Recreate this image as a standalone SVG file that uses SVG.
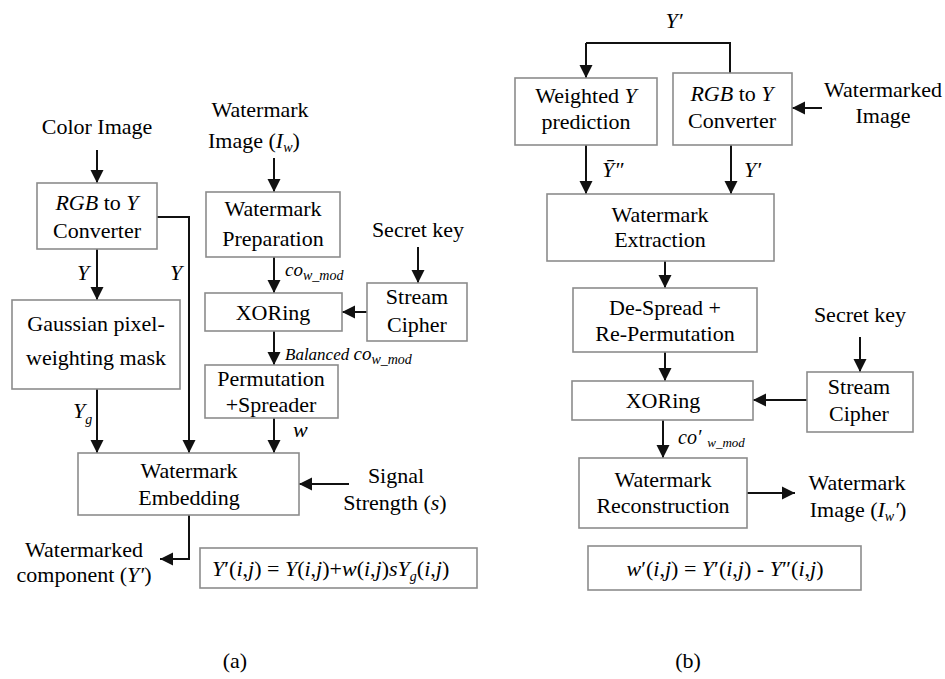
<svg xmlns="http://www.w3.org/2000/svg" width="945" height="679" viewBox="0 0 945 679">
<defs>
<marker id="ah" markerUnits="userSpaceOnUse" markerWidth="14" markerHeight="14" refX="13" refY="7" orient="auto">
<path d="M0,0.5 L13,7 L0,13.5 z" fill="#111"/>
</marker>
</defs>
<rect width="945" height="679" fill="#fff"/>

<g id="connectors" fill="none" stroke="#111" stroke-width="2" marker-end="url(#ah)">
<line x1="97" y1="150" x2="97" y2="183"/>
<line x1="97" y1="249" x2="97" y2="300"/>
<polyline points="157,217 189,217 189,453"/>
<line x1="97" y1="389" x2="97" y2="453"/>
<line x1="274" y1="158" x2="274" y2="192"/>
<line x1="274" y1="257" x2="274" y2="293"/>
<line x1="418" y1="247" x2="418" y2="283"/>
<line x1="367" y1="312" x2="342" y2="312"/>
<line x1="274" y1="331" x2="274" y2="365"/>
<line x1="274" y1="418" x2="274" y2="453"/>
<line x1="349" y1="484" x2="299" y2="484"/>
<polyline points="189,515 189,559 160,559"/>
<polyline points="730,73 730,43 586,43" marker-end="none"/>
<line x1="586" y1="43" x2="586" y2="78"/>
<line x1="822" y1="108" x2="792" y2="108"/>
<line x1="586" y1="145" x2="586" y2="194"/>
<line x1="731" y1="145" x2="731" y2="194"/>
<line x1="665" y1="261" x2="665" y2="288"/>
<line x1="665" y1="352" x2="665" y2="381"/>
<line x1="860" y1="337" x2="860" y2="372"/>
<line x1="807" y1="400" x2="753" y2="400"/>
<line x1="663" y1="420" x2="663" y2="458"/>
<line x1="747" y1="493" x2="795" y2="493"/>
</g>

<g fill="#fff" stroke="#8c8c8c" stroke-width="1.6">
<rect id="r_rgb2y_a" x="37" y="183" width="120" height="66"/>
<rect id="r_gauss" x="12" y="300" width="168" height="89"/>
<rect id="r_wprep" x="206" y="192" width="134" height="65"/>
<rect id="r_xor_a" x="205" y="293" width="137" height="38"/>
<rect id="r_cipher_a" x="367" y="283" width="100" height="58"/>
<rect id="r_perm" x="205" y="365" width="133" height="53"/>
<rect id="r_embed" x="78" y="453" width="221" height="62"/>
<rect id="r_formula_a" x="200" y="548" width="277" height="40"/>
<rect id="r_wpred" x="515" y="78" width="142" height="67"/>
<rect id="r_rgb2y_b" x="673" y="73" width="119" height="72"/>
<rect id="r_extract" x="547" y="194" width="227" height="67"/>
<rect id="r_despread" x="573" y="288" width="184" height="64"/>
<rect id="r_xor_b" x="572" y="381" width="181" height="39"/>
<rect id="r_cipher_b" x="807" y="372" width="106" height="60"/>
<rect id="r_recon" x="579" y="458" width="168" height="70"/>
<rect id="r_formula_b" x="588" y="546" width="273" height="44"/>
</g>

<g id="labels">
<text font-family="Liberation Serif" font-size="22" text-anchor="middle" x="97" y="134">Color Image</text>
<text font-family="Liberation Serif" font-size="22" text-anchor="middle" font-style="italic" x="83" y="280">Y</text>
<text font-family="Liberation Serif" font-size="22" text-anchor="middle" font-style="italic" x="176" y="280">Y</text>
<text font-family="Liberation Serif" font-size="22" font-style="italic" x="73" y="418">Y<tspan font-size="14" dy="6">g</tspan></text>
<text font-family="Liberation Serif" font-size="22" text-anchor="middle" x="260" y="117">Watermark</text>
<text font-family="Liberation Serif" font-size="22" x="208" y="148">Image (<tspan font-style="italic">I</tspan><tspan font-style="italic" font-size="14" dy="4">w</tspan><tspan dy="-4">)</tspan></text>
<text font-family="Liberation Serif" font-size="22" text-anchor="middle" x="418" y="237">Secret key</text>
<text font-family="Liberation Serif" font-style="italic" font-size="19" x="285" y="276">co<tspan font-size="14" dy="4">w_mod</tspan></text>
<text font-family="Liberation Serif" font-style="italic" font-size="17" x="285" y="360">Balanced <tspan font-size="19">co</tspan><tspan font-size="14" dy="4">w_mod</tspan></text>
<text font-family="Liberation Serif" font-size="22" font-style="italic" x="293" y="437">w</text>
<text font-family="Liberation Serif" font-size="22" text-anchor="middle" x="396" y="483">Signal</text>
<text font-family="Liberation Serif" font-size="22" text-anchor="middle" x="395" y="510">Strength (<tspan font-style="italic">s</tspan>)</text>
<text font-family="Liberation Serif" font-size="22" text-anchor="middle" x="84" y="557">Watermarked</text>
<text font-family="Liberation Serif" font-size="22" text-anchor="middle" x="84" y="582">component (<tspan font-style="italic">Y′</tspan>)</text>
<text font-family="Liberation Serif" font-size="22" text-anchor="middle" font-style="italic" x="674" y="28">Y′</text>
<text font-family="Liberation Serif" font-size="22" text-anchor="middle" x="883" y="97">Watermarked</text>
<text font-family="Liberation Serif" font-size="22" text-anchor="middle" x="883" y="123">Image</text>
<text font-family="Liberation Serif" font-size="22" font-style="italic" x="602" y="177">Ȳ″</text>
<text font-family="Liberation Serif" font-size="22" font-style="italic" x="744" y="177">Y′</text>
<text font-family="Liberation Serif" font-size="22" text-anchor="middle" x="860" y="322">Secret key</text>
<text font-family="Liberation Serif" font-style="italic" font-size="20" x="678" y="444">co′<tspan font-size="13" dx="6" dy="3">w_mod</tspan></text>
<text font-family="Liberation Serif" font-size="22" text-anchor="middle" x="857" y="490">Watermark</text>
<text font-family="Liberation Serif" font-size="22" text-anchor="middle" x="858" y="517">Image (<tspan font-style="italic">I</tspan><tspan font-style="italic" font-size="14" dy="4">w</tspan><tspan font-style="italic" dy="-4">′</tspan>)</text>
<text font-family="Liberation Serif" font-size="22" text-anchor="middle" x="235" y="668">(a)</text>
<text font-family="Liberation Serif" font-size="22" text-anchor="middle" x="688" y="668">(b)</text>
</g>

<g id="rgb2y_a">
<text font-family="Liberation Serif" font-size="22" text-anchor="middle" x="97" y="210"><tspan font-style="italic">RGB</tspan> to <tspan font-style="italic">Y</tspan></text>
<text font-family="Liberation Serif" font-size="22" text-anchor="middle" x="97" y="238">Converter</text></g>

<g id="gauss">
<text font-family="Liberation Serif" font-size="22" text-anchor="middle" x="96" y="331">Gaussian pixel-</text>
<text font-family="Liberation Serif" font-size="22" text-anchor="middle" x="96" y="365">weighting mask</text></g>

<g id="wprep">
<text font-family="Liberation Serif" font-size="22" text-anchor="middle" x="273" y="216">Watermark</text>
<text font-family="Liberation Serif" font-size="22" text-anchor="middle" x="273" y="246">Preparation</text></g>

<g id="xor_a">
<text font-family="Liberation Serif" font-size="22" text-anchor="middle" x="273" y="320">XORing</text></g>

<g id="cipher_a">
<text font-family="Liberation Serif" font-size="22" text-anchor="middle" x="417" y="304">Stream</text>
<text font-family="Liberation Serif" font-size="22" text-anchor="middle" x="417" y="332">Cipher</text></g>

<g id="perm">
<text font-family="Liberation Serif" font-size="22" text-anchor="middle" x="271" y="386">Permutation</text>
<text font-family="Liberation Serif" font-size="22" text-anchor="middle" x="271" y="412">+Spreader</text></g>

<g id="embed">
<text font-family="Liberation Serif" font-size="22" text-anchor="middle" x="189" y="478">Watermark</text>
<text font-family="Liberation Serif" font-size="22" text-anchor="middle" x="189" y="505">Embedding</text></g>

<g id="formula_a">
<text font-family="Liberation Serif" font-size="22" x="212" y="576"><tspan font-style="italic">Y</tspan>′(<tspan font-style="italic">i</tspan>,<tspan font-style="italic">j</tspan>) = <tspan font-style="italic">Y</tspan>(<tspan font-style="italic">i</tspan>,<tspan font-style="italic">j</tspan>)+<tspan font-style="italic">w</tspan>(<tspan font-style="italic">i</tspan>,<tspan font-style="italic">j</tspan>)<tspan font-style="italic">sY</tspan><tspan font-style="italic" font-size="14" dy="5">g</tspan><tspan dy="-5">(</tspan><tspan font-style="italic">i</tspan>,<tspan font-style="italic">j</tspan>)</text></g>

<g id="wpred">
<text font-family="Liberation Serif" font-size="22" text-anchor="middle" x="586" y="103">Weighted <tspan font-style="italic">Y</tspan></text>
<text font-family="Liberation Serif" font-size="22" text-anchor="middle" x="586" y="129">prediction</text></g>

<g id="rgb2y_b">
<text font-family="Liberation Serif" font-size="22" text-anchor="middle" x="732" y="101"><tspan font-style="italic">RGB</tspan> to <tspan font-style="italic">Y</tspan></text>
<text font-family="Liberation Serif" font-size="22" text-anchor="middle" x="732" y="128">Converter</text></g>

<g id="extract">
<text font-family="Liberation Serif" font-size="22" text-anchor="middle" x="660" y="222">Watermark</text>
<text font-family="Liberation Serif" font-size="22" text-anchor="middle" x="660" y="247">Extraction</text></g>

<g id="despread">
<text font-family="Liberation Serif" font-size="22" text-anchor="middle" x="665" y="315">De-Spread +</text>
<text font-family="Liberation Serif" font-size="22" text-anchor="middle" x="665" y="341">Re-Permutation</text></g>

<g id="xor_b">
<text font-family="Liberation Serif" font-size="22" text-anchor="middle" x="663" y="408">XORing</text></g>

<g id="cipher_b">
<text font-family="Liberation Serif" font-size="22" text-anchor="middle" x="859" y="394">Stream</text>
<text font-family="Liberation Serif" font-size="22" text-anchor="middle" x="859" y="421">Cipher</text></g>

<g id="recon">
<text font-family="Liberation Serif" font-size="22" text-anchor="middle" x="663" y="487">Watermark</text>
<text font-family="Liberation Serif" font-size="22" text-anchor="middle" x="663" y="513">Reconstruction</text></g>

<g id="formula_b">
<text font-family="Liberation Serif" font-size="22" text-anchor="middle" x="725" y="576"><tspan font-style="italic">w</tspan>′(<tspan font-style="italic">i</tspan>,<tspan font-style="italic">j</tspan>) = <tspan font-style="italic">Y</tspan>′(<tspan font-style="italic">i</tspan>,<tspan font-style="italic">j</tspan>) - <tspan font-style="italic">Y</tspan>″(<tspan font-style="italic">i</tspan>,<tspan font-style="italic">j</tspan>)</text></g>
</svg>
